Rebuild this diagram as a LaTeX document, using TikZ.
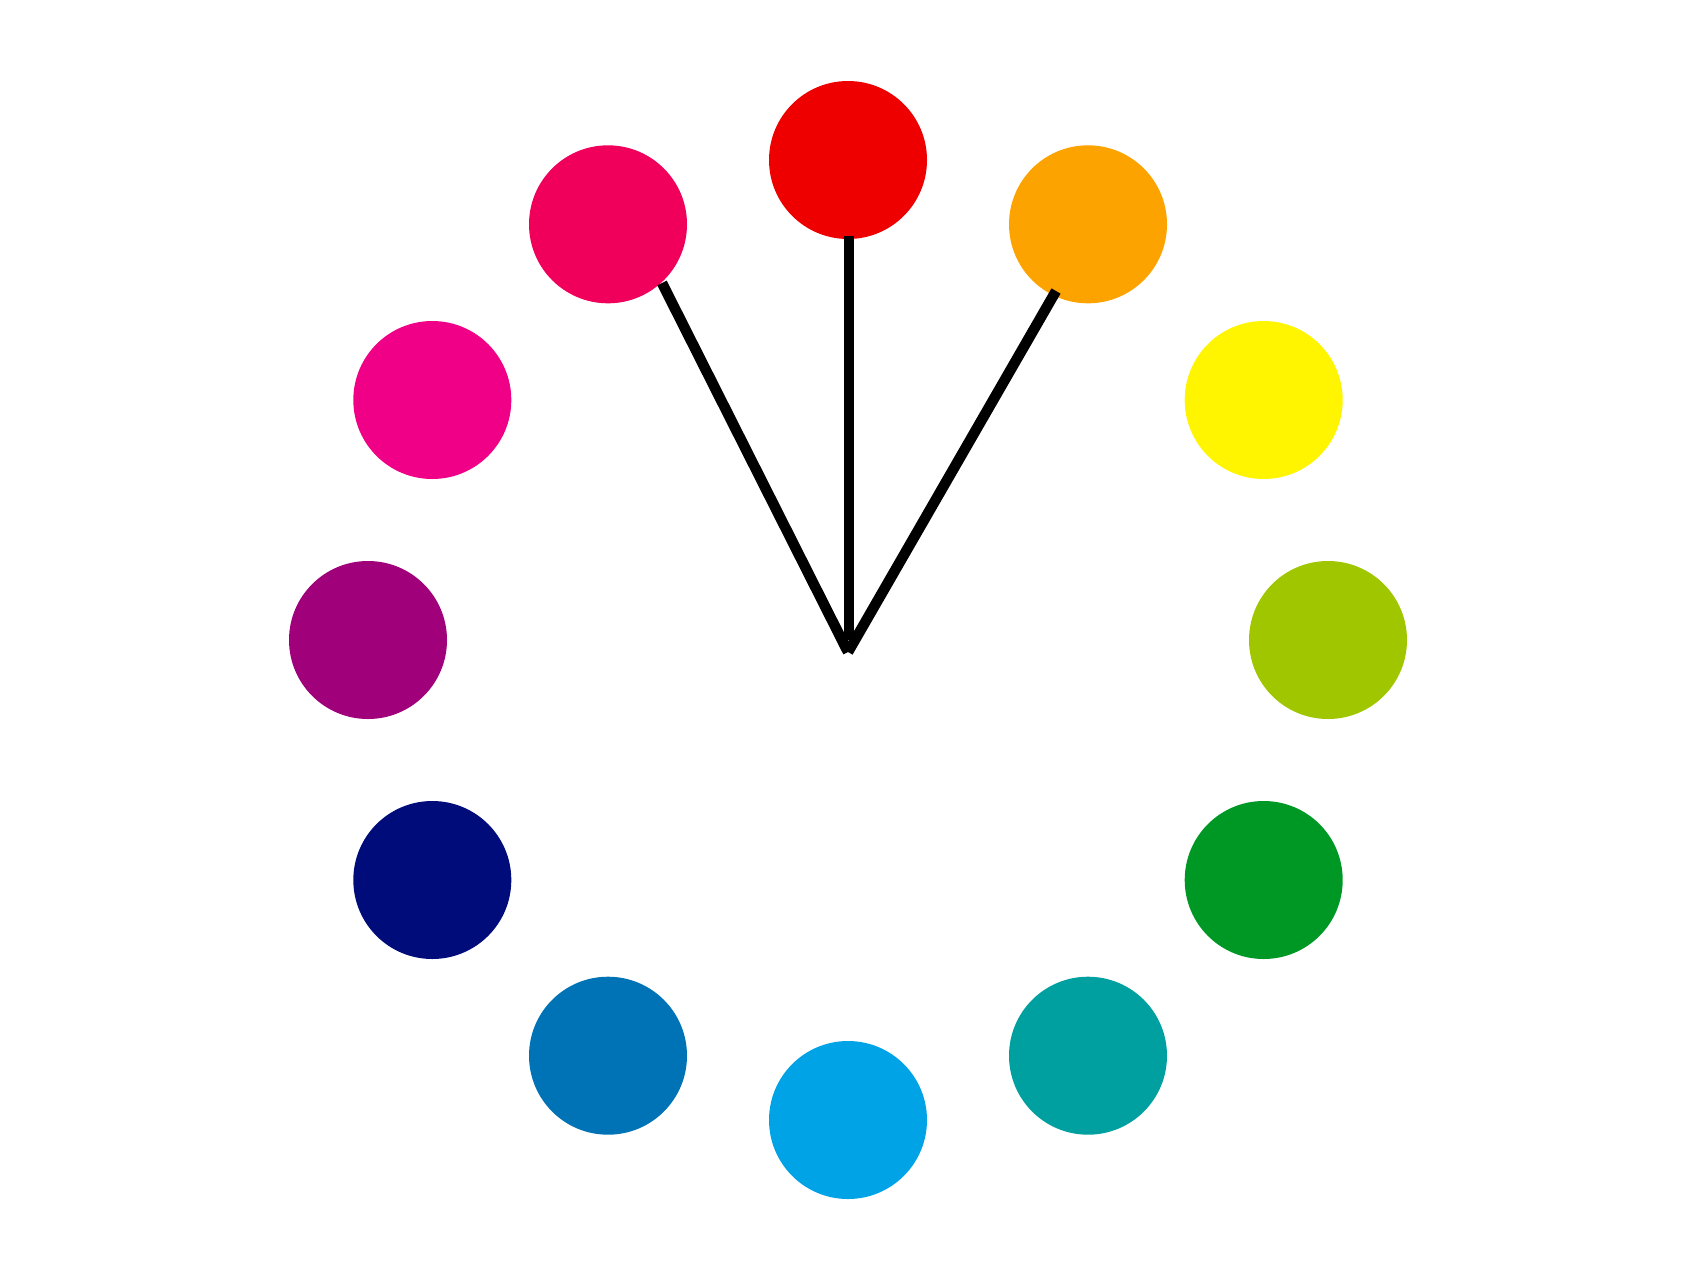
\documentclass[tikz,border=0pt]{standalone}
\usetikzlibrary{calc}
\begin{document}
\begin{tikzpicture}[x=1pt,y=-1pt,
  dot/.style={circle,inner sep=0pt,minimum size=158pt,draw=none},
  spoke/.style={line width=10.5pt,black,line cap=butt}]
\useasboundingbox (0,0) rectangle (1696,1280);
\definecolor{cRed}{RGB}{238,0,0}
\definecolor{cOrange}{RGB}{253,163,0}
\definecolor{cYellow}{RGB}{255,245,0}
\definecolor{cYGreen}{RGB}{160,198,0}
\definecolor{cGreen}{RGB}{0,152,36}
\definecolor{cTeal}{RGB}{0,160,160}
\definecolor{cCyan}{RGB}{0,163,230}
\definecolor{cBlue}{RGB}{0,115,182}
\definecolor{cNavy}{RGB}{0,12,122}
\definecolor{cPurple}{RGB}{160,0,122}
\definecolor{cMagenta}{RGB}{240,0,135}
\definecolor{cRose}{RGB}{240,0,90}
\coordinate (c) at (848,640);
\foreach \n/\col [count=\i from 0] in {red/cRed,orange/cOrange,yellow/cYellow,ygreen/cYGreen,green/cGreen,teal/cTeal,cyan/cCyan,blue/cBlue,navy/cNavy,purple/cPurple,magenta/cMagenta,rose/cRose}{
  \node[dot,fill=\col] (\n) at ($(c)+({480*sin(30*\i)},{-480*cos(30*\i)})$) {};
}
\coordinate (hub) at (848,652);
\coordinate (mb) at (849,640);
\coordinate (lt) at (662,283);
\coordinate (mt) at (849,236);
\coordinate (rt) at (1056,291);
\draw[spoke] (lt) -- (hub);
\draw[spoke] (mt) -- (mb);
\draw[spoke] (rt) -- (hub);
\end{tikzpicture}
\end{document}
